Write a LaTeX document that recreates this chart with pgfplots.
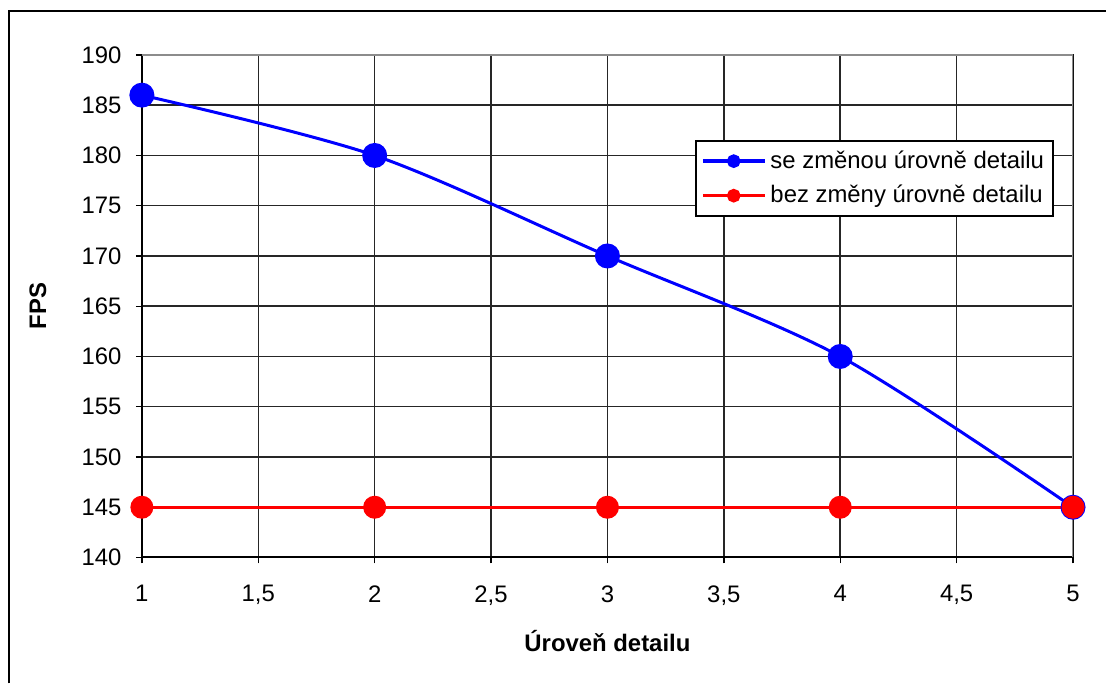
\documentclass[border=0pt]{standalone}
\usepackage{pgfplots}
\pgfplotsset{compat=1.18}
\usepackage{fontspec}
\setmainfont{Liberation Sans}
\definecolor{xlblue}{RGB}{0,0,255}
\definecolor{xlred}{RGB}{255,0,0}
\definecolor{xlgray}{RGB}{140,140,140}
\begin{document}
\begin{tikzpicture}
\path (0,0) rectangle (553.5bp,342bp);
\draw[line width=1bp] (4.5bp,0) -- (4.5bp,336.5bp) -- (553.5bp,336.5bp);
\begin{axis}[
  at={(71bp,63bp)}, anchor=south west,
  scale only axis, width=466bp, height=251.5bp,
  xmin=1, xmax=5, ymin=140, ymax=190,
  xtick={1,1.5,...,5}, ytick={140,145,...,190},
  /pgf/number format/use comma,
  /pgf/number format/assume math mode=true,
  xtick pos=bottom, ytick pos=left,
  tick align=outside, major tick length=3bp,
  tick style={black, line width=0.7bp},
  grid=major, major grid style={black!85, line width=0.75bp},
  axis line style={black, line width=1bp},
  tick label style={font=\fontsize{12}{14}\selectfont},
  xticklabel style={yshift=-7.5bp},
  yticklabel style={xshift=-3.7bp},
  xlabel={\textbf{Úroveň detailu}},
  ylabel={\textbf{FPS}},
  label style={font=\fontsize{12}{14}\selectfont},
  xlabel style={at={(rel axis cs:0.5,-0.167)}, anchor=center},
  ylabel style={at={(rel axis cs:-0.1116,0.5)}, anchor=center},
  legend style={at={(rel axis cs:0.594,0.831)}, anchor=north west,
    draw=black, line width=1bp, fill=white,
    font=\fontsize{12}{14}\selectfont, row sep=3bp,
    inner xsep=2.5bp, inner ysep=3bp},
  legend cell align=left,
  legend image code/.code={\draw[#1, line width=1.8bp, mark size=2.5bp, mark repeat=2, mark phase=2] plot coordinates {(0bp,0bp) (15.5bp,0bp) (31bp,0bp)};},
]
\addplot[xlblue, line width=1.5bp, smooth, mark=*, mark size=5.5bp, mark options={solid, fill=xlblue, draw=xlblue}]
  coordinates {(1,186) (2,180) (3,170) (4,160) (5,145)};
\addlegendentry{se změnou úrovně detailu}
\addplot[xlred, line width=1.5bp, mark=*, mark size=5bp, mark options={solid, fill=xlred, draw=xlred}]
  coordinates {(1,145) (2,145) (3,145) (4,145) (5,145)};
\addlegendentry{bez změny úrovně detailu}
\draw[xlgray, line width=1bp] (rel axis cs:0,1) -- (rel axis cs:1,1) -- (rel axis cs:1,0);
\end{axis}
\end{tikzpicture}
\end{document}
